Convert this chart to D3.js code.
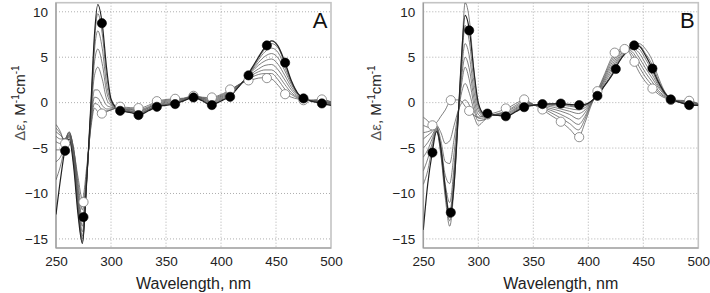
<!DOCTYPE html>
<html><head><meta charset="utf-8">
<script src="https://cdn.jsdelivr.net/npm/d3@7"></script>
<style>body{margin:0;background:#fff}svg{display:block}text{font-family:Arial,"Liberation Sans",sans-serif}</style>
</head><body><svg id="c" width="710" height="293"></svg>
<script>
// wavelength grid for spectra (nm)
const wl = [250,254,258,262,266,270,274,278,282,285,288,292,296,300,305,310,318,326,334,342,350,358,366,375,383,391,397,402,408,415,422,428,434,440,446,452,458,464,470,476,484,492,500];
const xTicks = [250,300,350,400,450,500];
const yTicks = [-15,-10,-5,0,5,10];

// Panel A spectra (A0 = initial/open ... A8 = final/filled)
const A0 = [-2.4,-3.2,-4.4,-3.7,-5.2,-8.2,-10.6,-7.0,-2.5,-0.6,-1.0,-1.2,-1.0,-0.8,-0.6,-0.5,-0.55,-0.6,-0.3,0.15,0.35,0.42,0.5,0.75,0.6,0.55,0.75,1.0,1.4,1.9,2.3,2.5,2.7,2.75,2.6,1.9,1.0,0.6,0.4,0.25,0.3,0.35,0.1];
const A1 = [-2.8,-3.4,-4.2,-3.5,-5.0,-8.8,-11.8,-7.5,-2.2,-0.1,-0.2,-0.8,-0.9,-0.8,-0.6,-0.6,-0.65,-0.75,-0.45,0.05,0.25,0.35,0.45,0.72,0.55,0.45,0.65,0.9,1.3,1.9,2.4,2.8,3.1,3.2,3.2,2.5,1.5,0.9,0.5,0.3,0.25,0.3,0.05];
const A2 = [-3.2,-3.6,-4.0,-3.3,-5.1,-9.4,-12.8,-7.8,-1.8,0.6,0.5,-0.3,-0.7,-0.7,-0.6,-0.65,-0.75,-0.85,-0.55,-0.05,0.15,0.25,0.4,0.7,0.5,0.35,0.55,0.8,1.2,1.85,2.45,3.0,3.4,3.6,3.6,3.0,2.0,1.1,0.6,0.35,0.2,0.2,0.0];
const A3 = [-3.7,-4.0,-4.0,-3.2,-5.4,-10.0,-13.6,-8.0,-1.4,1.4,1.4,0.6,-0.3,-0.5,-0.6,-0.7,-0.8,-0.95,-0.6,-0.15,0.05,0.15,0.35,0.68,0.45,0.25,0.45,0.7,1.1,1.8,2.5,3.2,3.7,4.1,4.2,3.6,2.5,1.4,0.7,0.4,0.2,0.15,-0.05];
const A4 = [-4.3,-4.5,-4.2,-3.3,-5.7,-10.6,-14.2,-8.2,-0.8,3.0,3.9,2.6,0.4,-0.3,-0.6,-0.75,-0.9,-1.05,-0.7,-0.25,-0.05,0.05,0.3,0.65,0.4,0.15,0.35,0.6,1.0,1.75,2.55,3.4,4.1,4.6,4.8,4.2,3.0,1.7,0.8,0.4,0.15,0.1,-0.1];
const A5 = [-5.2,-5.2,-4.5,-3.5,-6.0,-11.0,-14.7,-8.3,-0.4,4.5,5.9,4.3,1.2,-0.1,-0.6,-0.8,-0.95,-1.15,-0.75,-0.3,-0.15,0.0,0.25,0.62,0.35,0.05,0.25,0.5,0.9,1.7,2.6,3.5,4.4,5.1,5.4,4.9,3.5,2.0,0.9,0.45,0.15,0.05,-0.15];
const A6 = [-6.5,-6.0,-4.8,-3.6,-6.3,-11.4,-15.0,-8.4,-0.1,5.8,7.9,6.0,2.0,0.1,-0.6,-0.85,-1.0,-1.2,-0.8,-0.35,-0.2,-0.05,0.2,0.6,0.3,-0.05,0.15,0.4,0.8,1.65,2.6,3.6,4.7,5.6,6.0,5.5,3.9,2.2,0.95,0.45,0.12,0.0,-0.2];
const A7 = [-8.5,-7.0,-5.0,-3.8,-6.6,-11.8,-15.3,-8.5,0.2,6.8,9.8,7.6,3.0,0.3,-0.6,-0.9,-1.05,-1.3,-0.85,-0.4,-0.25,-0.1,0.2,0.58,0.25,-0.15,0.05,0.35,0.7,1.6,2.6,3.7,4.9,5.9,6.5,6.0,4.3,2.3,1.0,0.45,0.1,-0.05,-0.25];
const A8 = [-12.3,-8.5,-5.3,-4.0,-7.0,-12.3,-15.5,-8.5,0.5,7.5,10.8,8.7,3.8,0.4,-0.6,-0.9,-1.1,-1.35,-0.9,-0.45,-0.3,-0.15,0.2,0.57,0.2,-0.27,0.0,0.3,0.65,1.6,2.6,3.8,5.0,6.1,6.8,6.2,4.5,2.4,1.0,0.45,0.1,-0.1,-0.3];

// Panel B spectra
const B0 = [-1.6,-2.0,-2.5,-2.2,-1.5,-0.8,0.1,0.3,0.3,0.1,-0.4,-0.95,-1.4,-1.6,-1.5,-1.3,-1.0,-0.65,-0.1,0.3,-0.2,-0.75,-1.4,-2.1,-2.9,-3.8,-2.2,-0.5,1.2,3.2,5.1,5.8,5.9,4.9,3.4,2.3,1.55,0.9,0.5,0.3,0.25,0.2,-0.1];
const B1 = [-2.5,-2.7,-2.8,-2.5,-3.3,-4.5,-4.2,-2.5,-0.8,0.0,0.3,-0.3,-1.5,-2.5,-2.0,-1.5,-1.2,-0.9,-0.3,0.15,-0.2,-0.6,-1.1,-1.7,-2.3,-3.0,-1.8,-0.3,1.1,3.0,4.8,5.6,5.9,5.3,4.0,2.8,1.9,1.1,0.6,0.3,0.2,0.15,-0.15];
const B2 = [-3.3,-3.2,-3.0,-2.6,-4.2,-6.5,-6.7,-4.0,-0.8,1.2,2.1,1.0,-0.8,-2.0,-1.9,-1.5,-1.25,-1.0,-0.45,0.0,-0.2,-0.5,-0.85,-1.3,-1.8,-2.4,-1.5,-0.2,1.0,2.8,4.5,5.5,5.9,5.6,4.5,3.3,2.3,1.3,0.7,0.3,0.15,0.1,-0.2];
const B3 = [-4.0,-3.6,-3.2,-2.7,-4.8,-8.0,-8.9,-5.5,-0.8,2.2,3.9,2.4,-0.2,-1.7,-1.8,-1.5,-1.3,-1.15,-0.6,-0.1,-0.22,-0.4,-0.65,-0.95,-1.3,-1.8,-1.1,-0.1,0.95,2.6,4.2,5.3,5.9,5.9,5.0,3.8,2.7,1.6,0.8,0.35,0.1,0.0,-0.2];
const B4 = [-5.0,-4.4,-3.6,-2.8,-5.2,-9.0,-11.0,-7.0,-0.9,3.0,5.0,3.6,0.5,-1.3,-1.6,-1.4,-1.35,-1.25,-0.7,-0.2,-0.25,-0.3,-0.45,-0.7,-0.95,-1.2,-0.8,0.0,0.9,2.4,3.9,5.1,5.8,6.0,5.5,4.3,3.1,1.8,0.9,0.35,0.05,-0.1,-0.25];
const B5 = [-6.0,-5.2,-4.0,-2.9,-5.4,-9.6,-12.0,-7.8,-1.0,3.8,6.5,5.0,1.3,-0.9,-1.5,-1.4,-1.4,-1.35,-0.8,-0.3,-0.25,-0.25,-0.3,-0.45,-0.65,-0.8,-0.55,0.05,0.85,2.2,3.6,4.9,5.7,6.1,5.9,4.8,3.5,2.0,0.95,0.35,0.05,-0.15,-0.25];
const B6 = [-7.5,-6.2,-4.5,-3.0,-5.6,-10.0,-13.0,-8.6,-1.0,4.6,8.5,6.6,2.3,-0.5,-1.4,-1.35,-1.4,-1.45,-0.9,-0.4,-0.28,-0.2,-0.2,-0.25,-0.4,-0.5,-0.35,0.1,0.8,2.0,3.3,4.7,5.6,6.2,6.3,5.4,4.2,2.4,1.05,0.35,0.0,-0.2,-0.3];
const B7 = [-9.0,-7.5,-5.0,-3.1,-5.8,-10.5,-13.6,-9.2,-1.0,5.5,11.0,9.0,3.5,-0.2,-1.3,-1.3,-1.4,-1.5,-0.95,-0.45,-0.3,-0.18,-0.15,-0.15,-0.3,-0.4,-0.3,0.1,0.75,1.9,3.2,4.5,5.4,6.1,6.5,5.9,4.7,2.7,1.1,0.35,0.0,-0.25,-0.3];
const B8 = [-14.0,-9.0,-5.6,-3.2,-5.0,-9.5,-12.6,-9.0,-1.0,5.5,9.6,7.9,3.5,0.0,-1.2,-1.3,-1.4,-1.5,-1.0,-0.5,-0.3,-0.16,-0.12,-0.1,-0.2,-0.27,-0.2,0.1,0.75,1.9,3.1,4.5,5.5,6.2,6.2,5.2,3.8,2.2,1.0,0.35,0.0,-0.27,-0.3];

// Marker samples
const mkWl = [258.3,275,291.7,308.3,325,341.7,358.3,375,391.7,408.3,425,441.7,458.3,475,491.7];
const A_open = [-4.5,-10.95,-1.2,-0.45,-0.6,0.16,0.42,0.75,0.57,1.45,2.45,2.7,0.93,0.27,0.35];
const A_fill = [-5.3,-12.6,8.75,-0.9,-1.37,-0.46,-0.16,0.57,-0.27,0.64,3.0,6.3,4.4,0.46,-0.09];
const B_openWl = [258.3,275,291.7,308.3,325,341.7,358.3,375,391.7,408.3,424,433,442,458.3,475,491.7];
const B_open = [-2.5,0.27,-0.9,-1.3,-0.64,0.35,-0.75,-2.1,-3.8,1.26,5.5,5.9,4.5,1.55,0.3,0.2];
const B_fill = [-5.5,-12.1,7.95,-1.2,-1.5,-0.5,-0.16,-0.1,-0.27,0.75,3.7,6.3,3.75,0.35,-0.27];

const panels = [
  {label:"A", left:56, curves:[A0,A1,A2,A3,A4,A5,A6,A7,A8], openWl:mkWl, open:A_open, fill:A_fill, ylabX:25},
  {label:"B", left:423.3, curves:[B0,B1,B2,B3,B4,B5,B6,B7,B8], openWl:B_openWl, open:B_open, fill:B_fill, ylabX:381}
];

const svg = d3.select("#c");
const plotW = 275, plotTop = 2.7, plotBottom = 248;

panels.forEach((p, pi) => {
  const x = d3.scaleLinear().domain([250,500]).range([p.left, p.left + plotW]);
  const y = d3.scaleLinear().domain([-16,11]).range([plotBottom, plotTop]);
  const g = svg.append("g");
  const cid = "clip" + pi;
  svg.append("clipPath").attr("id", cid).append("rect")
    .attr("x", p.left).attr("y", plotTop).attr("width", plotW).attr("height", plotBottom - plotTop);

  // grid
  g.selectAll(".gx").data(xTicks.slice(1,-1)).join("line")
    .attr("x1", d => x(d)).attr("x2", d => x(d)).attr("y1", plotTop).attr("y2", plotBottom)
    .attr("stroke", "#9a9a9a").attr("stroke-width", 0.8).attr("stroke-dasharray", "1,2");
  g.selectAll(".gy").data(yTicks).join("line")
    .attr("x1", p.left).attr("x2", p.left + plotW).attr("y1", d => y(d)).attr("y2", d => y(d))
    .attr("stroke", "#9a9a9a").attr("stroke-width", 0.8).attr("stroke-dasharray", "1,2");

  // frame
  g.append("rect").attr("x", p.left).attr("y", plotTop).attr("width", plotW).attr("height", plotBottom - plotTop)
    .attr("fill", "none").attr("stroke", "#c4c4c4").attr("stroke-width", 1.6);
  g.append("line").attr("x1", p.left).attr("x2", p.left).attr("y1", plotTop).attr("y2", plotBottom)
    .attr("stroke", "#9a9a9a").attr("stroke-width", 1.2);
  g.append("line").attr("x1", p.left).attr("x2", p.left + plotW).attr("y1", plotBottom).attr("y2", plotBottom)
    .attr("stroke", "#9a9a9a").attr("stroke-width", 1.2);

  // axes labels via d3 axes
  const xa = g.append("g").attr("transform", `translate(0,${plotBottom})`)
    .call(d3.axisBottom(x).tickValues(xTicks).tickSize(0).tickPadding(8));
  xa.select(".domain").remove();
  xa.selectAll("text").attr("font-size", 13.5).attr("fill", "#222").attr("font-family", "Arial, Liberation Sans, sans-serif");
  const ya = g.append("g").attr("transform", `translate(${p.left},0)`)
    .call(d3.axisLeft(y).tickValues(yTicks).tickSize(0).tickPadding(8));
  ya.select(".domain").remove();
  ya.selectAll("text").attr("font-size", 13.5).attr("fill", "#222").attr("font-family", "Arial, Liberation Sans, sans-serif");

  // curves
  const line = d3.line().x((d, i) => x(wl[i])).y(d => y(d)).curve(d3.curveMonotoneX);
  const cg = g.append("g").attr("clip-path", `url(#${cid})`);
  cg.selectAll("path").data(p.curves).join("path")
    .attr("d", d => line(d)).attr("fill", "none")
    .attr("stroke", (d, i) => i === p.curves.length - 1 ? "#222" : "#555")
    .attr("stroke-width", (d, i) => i === p.curves.length - 1 ? 1.2 : 0.75);

  // markers
  g.selectAll(".mo").data(p.open).join("circle")
    .attr("cx", (d, i) => x(p.openWl[i])).attr("cy", d => y(d)).attr("r", 4.6)
    .attr("fill", "#fff").attr("stroke", "#777").attr("stroke-width", 0.8);
  g.selectAll(".mf").data(p.fill).join("circle")
    .attr("cx", (d, i) => x(mkWl[i])).attr("cy", d => y(d)).attr("r", 4.6)
    .attr("fill", "#000").attr("stroke", "#000").attr("stroke-width", 0.6);

  // panel letter
  g.append("text").attr("x", p.left + plotW - 11).attr("y", 28).attr("text-anchor", "middle")
    .attr("font-size", 22).attr("fill", "#111").text(p.label);

  // axis titles
  g.append("text").attr("x", p.left + plotW / 2).attr("y", 289).attr("text-anchor", "middle")
    .attr("font-size", 16).attr("fill", "#222").text("Wavelength, nm");
  const yt = g.append("text").attr("transform", `translate(${p.ylabX},${103}) rotate(-90)`)
    .attr("text-anchor", "middle").attr("font-size", 15).attr("fill", "#222");
  yt.append("tspan").attr("fill", "#555").text("Δε");
  yt.append("tspan").text(", M");
  yt.append("tspan").attr("font-size", 10).attr("dy", -6).text("-1");
  yt.append("tspan").attr("dy", 6).text("cm");
  yt.append("tspan").attr("font-size", 10).attr("dy", -6).text("-1");
});
</script>
</body></html>
